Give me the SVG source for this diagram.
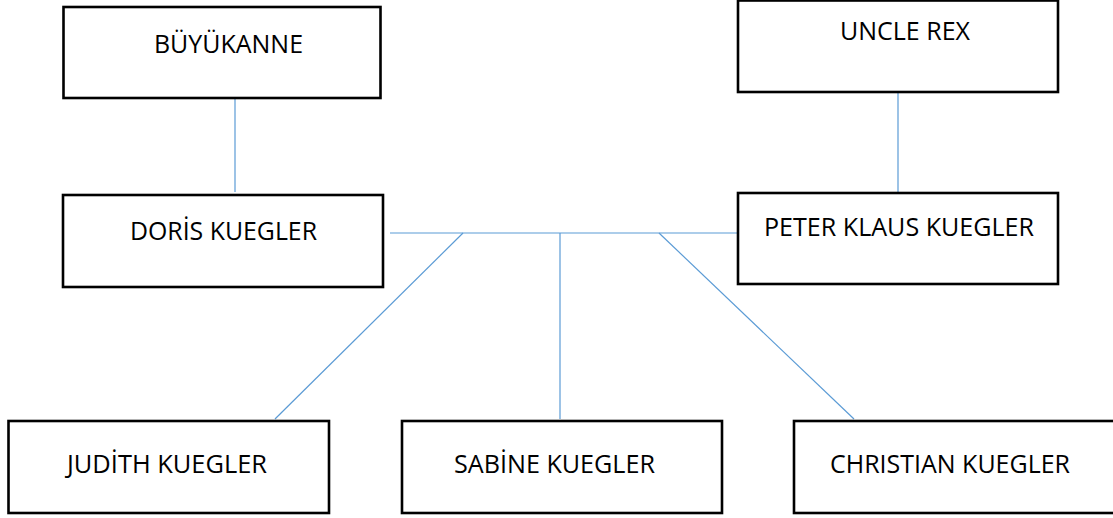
<svg xmlns="http://www.w3.org/2000/svg" width="1113" height="518" viewBox="0 0 1113 518">
  <style>
    .box { fill: #ffffff; stroke: #000000; stroke-width: 2.6; }
    .label { font-family: "Open Sans", "Liberation Sans", sans-serif; font-size: 25px; fill: #000000; }
    .link { stroke: #5B9BD5; stroke-width: 1.2; fill: none; }
  </style>
  <rect width="1113" height="518" fill="#ffffff"/>

  <!-- connectors -->
  <g id="connectors">
    <line class="link" x1="235" y1="98" x2="235" y2="192"/>
    <line class="link" x1="898" y1="92" x2="898" y2="192"/>
    <line class="link" x1="390" y1="233" x2="738" y2="233"/>
    <line class="link" x1="463" y1="233" x2="275" y2="419"/>
    <line class="link" x1="560" y1="233" x2="560" y2="419"/>
    <line class="link" x1="659" y1="233" x2="854" y2="419"/>
  </g>

  <g id="buyukanne">
    <rect class="box" x="63.5" y="7" width="317" height="91"/>
    <text class="label" x="154" y="53" textLength="149" lengthAdjust="spacingAndGlyphs">BÜYÜKANNE</text>
  </g>

  <g id="uncle-rex">
    <rect class="box" x="738" y="0.5" width="320" height="91.5"/>
    <text class="label" x="840" y="40" textLength="130" lengthAdjust="spacingAndGlyphs">UNCLE REX</text>
  </g>

  <g id="doris-kuegler">
    <rect class="box" x="63" y="195" width="320" height="92"/>
    <text class="label" x="130" y="240" textLength="187" lengthAdjust="spacingAndGlyphs">DORİS KUEGLER</text>
  </g>

  <g id="peter-klaus-kuegler">
    <rect class="box" x="738" y="193" width="320" height="91"/>
    <text class="label" x="764" y="236" textLength="270" lengthAdjust="spacingAndGlyphs">PETER KLAUS KUEGLER</text>
  </g>

  <g id="judith-kuegler">
    <rect class="box" x="8.5" y="421" width="320.5" height="92"/>
    <text class="label" x="67" y="473" textLength="200" lengthAdjust="spacingAndGlyphs">JUDİTH KUEGLER</text>
  </g>

  <g id="sabine-kuegler">
    <rect class="box" x="402" y="421" width="320" height="92"/>
    <text class="label" x="454" y="473" textLength="201" lengthAdjust="spacingAndGlyphs">SABİNE KUEGLER</text>
  </g>

  <g id="christian-kuegler">
    <rect class="box" x="794" y="421" width="330" height="92"/>
    <text class="label" x="830" y="473" textLength="240" lengthAdjust="spacingAndGlyphs">CHRISTIAN KUEGLER</text>
  </g>
</svg>
